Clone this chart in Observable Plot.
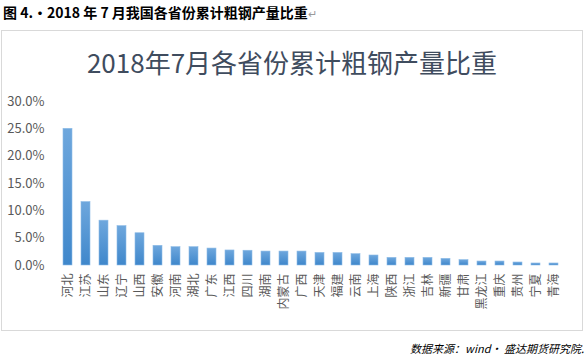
<!DOCTYPE html>
<html>
<head>
<meta charset="utf-8">
<script src="https://cdn.jsdelivr.net/npm/d3@7"></script>
<script src="https://cdn.jsdelivr.net/npm/@observablehq/plot@0.6"></script>
<style>
  html, body { margin: 0; padding: 0; background: #fff; }
  body { width: 587px; height: 358px; position: relative; overflow: hidden; font-family: "Noto Sans CJK SC", "Noto Sans", sans-serif; }
  #header { position: absolute; left: 3px; top: 2px; font-size: 14px; font-weight: bold; color: #000; line-height: 20px; white-space: nowrap; }
  #header .pm { color: #9a9a9a; font-weight: normal; font-size: 11px; }
  #frame { position: absolute; left: 1px; top: 30px; width: 582px; height: 301px; box-sizing: border-box; border: 1px solid #d9d9d9; }
  #title { position: absolute; left: 1px; width: 582px; top: 46px; text-align: center; font-size: 26px; line-height: 32px; color: #3f4c5e; white-space: nowrap; }
  #chart { position: absolute; left: 0; top: 90px; }
  #source { position: absolute; right: 3px; top: 340px; font-size: 11px; font-style: italic; color: #000; line-height: 16px; white-space: nowrap; }
</style>
</head>
<body>
<div id="header">图 4.·2018 年 7 月我国各省份累计粗钢产量比重<span class="pm">↵</span></div>
<div id="frame"></div>
<div id="title">2018年7月各省份累计粗钢产量比重</div>
<div id="chart"></div>
<div id="source">数据来源：wind· 盛达期货研究院.</div>
<script>
const provinces = ["河北","江苏","山东","辽宁","山西","安徽","河南","湖北","广东","江西","四川","湖南","内蒙古","广西","天津","福建","云南","上海","陕西","浙江","吉林","新疆","甘肃","黑龙江","重庆","贵州","宁夏","青海"];
const shares = [25.0,11.6,8.2,7.2,5.9,3.6,3.35,3.35,3.1,2.75,2.7,2.55,2.55,2.55,2.3,2.3,2.07,1.83,1.4,1.4,1.4,1.22,0.98,0.73,0.73,0.55,0.37,0.37];
const yTicks = [0,5,10,15,20,25,30];

const data = provinces.map((p, i) => ({province: p, share: shares[i]}));

const svg = Plot.plot({
  width: 587,
  height: 240,
  marginTop: 11,
  marginBottom: 65,
  marginLeft: 56,
  marginRight: 22,
  style: {fontFamily: "'Noto Sans CJK SC', 'Noto Sans', sans-serif", color: "#595959", background: "transparent", overflow: "visible"},
  x: {domain: provinces, paddingInner: 0.5, paddingOuter: 0.25, label: null},
  y: {domain: [0, 30], label: null},
  marks: [
    Plot.ruleY(yTicks, {stroke: "#d9d9d9", strokeWidth: 1, x1: 55, x2: 565}),
    Plot.barY(data, {x: "province", y: "share", fill: "url(#barGrad)", stroke: "#8dbbe6", strokeWidth: 0.6}),
    Plot.axisY(yTicks, {tickSize: 0, tickPadding: 12, tickFormat: d => d.toFixed(1) + "%", fontSize: 13, fill: "#595959", label: null}),
    Plot.axisX({tickSize: 0, tickPadding: 8, tickRotate: -90, fontSize: 12, fill: "#595959", label: null})
  ]
});

const defs = d3.select(svg).insert("defs", ":first-child");
const g = defs.append("linearGradient").attr("id", "barGrad").attr("x1", 0).attr("y1", 0).attr("x2", 0).attr("y2", 1);
g.append("stop").attr("offset", "0%").attr("stop-color", "#6ea7dd");
g.append("stop").attr("offset", "100%").attr("stop-color", "#3f87cb");

document.getElementById("chart").appendChild(svg);
</script>
</body>
</html>
